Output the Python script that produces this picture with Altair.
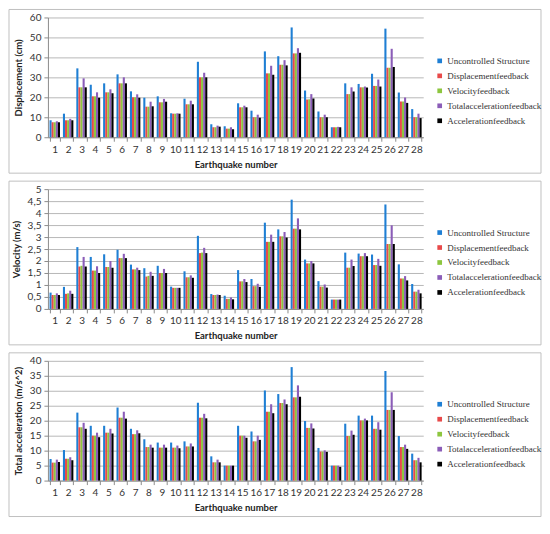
import pandas as pd
import altair as alt

quakes = list(range(1, 29))
series = ["Uncontrolled Structure", "Displacementfeedback", "Velocityfeedback",
          "Totalaccelerationfeedback", "Accelerationfeedback"]
colors = ["#1f7fd4", "#e84a4a", "#8dc63f", "#8b5db8", "#000000"]

# displacement (cm)
disp_unc = [8.5, 11.8, 34.5, 26.3, 27, 31.5, 23, 19.8, 20.5, 12, 19.3, 37.8, 6.5, 5.5,
            17, 13.3, 43, 40.6, 55, 23.4, 12.9, 5, 27, 26.7, 31.8, 54.4, 22.4, 14.1]
disp_dis = [7.5, 8.5, 25, 20.5, 22.5, 27, 20, 15.3, 17.5, 11.8, 16.5, 30, 5, 4.3,
            15, 10, 32, 36.3, 42, 18.9, 10, 5, 21.6, 25, 25.7, 34.8, 17.9, 10]
disp_vel = [7.5, 8.5, 25, 20.5, 22.5, 27, 20, 15.3, 17.5, 11.8, 16.5, 30, 5, 4.3,
            15, 10, 32, 36.3, 42, 19, 10, 5, 21.6, 25, 25.7, 34.8, 17.9, 10]
disp_tot = [8, 9.2, 29.5, 22.5, 24, 30, 21.5, 17.8, 19.2, 12, 18.3, 32.3, 5.8, 5,
            15.8, 11.3, 35.8, 38.6, 44.6, 21.6, 11.3, 5.2, 25, 25.4, 28.9, 44.3, 19.9, 11.8]
disp_acc = [7.5, 8.5, 25, 19.8, 22, 27, 19.8, 15.5, 17.8, 11.8, 16.5, 30, 5.3, 4,
            15, 9.8, 31.3, 36, 42.3, 19.4, 10, 5, 22.9, 24.9, 25.4, 35.2, 17.2, 9.6]

# velocity (m/s)
vel_unc = [0.68, 0.92, 2.58, 2.17, 2.28, 2.47, 1.85, 1.7, 1.8, 0.93, 1.57, 3.05, 0.62, 0.55,
           1.62, 1.25, 3.6, 3.32, 4.56, 2.06, 1.16, 0.39, 2.35, 2.31, 2.27, 4.36, 1.86, 1.04]
vel_dis = [0.58, 0.63, 1.77, 1.6, 1.75, 2.12, 1.65, 1.35, 1.5, 0.88, 1.32, 2.33, 0.58, 0.42,
           1.15, 0.95, 2.8, 3.03, 3.35, 1.9, 0.93, 0.39, 1.72, 2.2, 1.83, 2.71, 1.27, 0.72]
vel_vel = [0.58, 0.65, 1.8, 1.6, 1.75, 2.12, 1.65, 1.38, 1.5, 0.88, 1.32, 2.35, 0.58, 0.42,
           1.15, 0.95, 2.8, 3.03, 3.35, 1.9, 0.93, 0.39, 1.72, 2.2, 1.83, 2.71, 1.27, 0.72]
vel_tot = [0.65, 0.76, 2.17, 1.78, 2.0, 2.3, 1.72, 1.55, 1.67, 0.88, 1.4, 2.55, 0.6, 0.48,
           1.25, 1.05, 3.1, 3.21, 3.78, 2.0, 1.02, 0.39, 2.06, 2.33, 2.09, 3.49, 1.37, 0.8]
vel_acc = [0.58, 0.63, 1.77, 1.5, 1.72, 2.12, 1.62, 1.38, 1.5, 0.88, 1.3, 2.33, 0.58, 0.4,
           1.12, 0.92, 2.8, 2.98, 3.32, 1.9, 0.89, 0.39, 1.79, 2.2, 1.8, 2.71, 1.19, 0.65]

# total acceleration (m/s^2)
acc_unc = [7.2, 10.2, 22.7, 18.3, 18.3, 24.4, 17.3, 13.8, 12.7, 12.7, 13.1, 26, 8.1, 5,
           18.3, 16.4, 30.1, 28.9, 37.9, 19.9, 10.9, 5, 19, 21.7, 21.7, 36.6, 14.9, 9]
acc_dis = [6, 7.3, 17.8, 15, 16, 21, 15.5, 11.2, 11, 11, 11.4, 21, 6.1, 5,
           15, 13.1, 23, 25.9, 27.8, 17.6, 9.7, 5, 14.9, 20.1, 17.3, 23.6, 11.2, 6.8]
acc_vel = [6, 7.3, 17.8, 15, 16, 21, 15.5, 11.2, 11, 11, 11.4, 21, 6.1, 5,
           15, 13.1, 23, 25.9, 27.8, 17.6, 9.7, 5, 14.9, 20.1, 17.3, 23.6, 11.2, 6.8]
acc_tot = [7, 7.8, 19.3, 16, 17.3, 23, 16.8, 12, 12, 11.7, 12.4, 22.3, 7, 5,
           15, 15, 25.5, 27.1, 31.8, 19.1, 10.1, 5, 16.7, 20.7, 19.5, 29.5, 12, 7.6]
acc_acc = [6.2, 6.8, 17.3, 14.5, 15.7, 20.7, 15.8, 11, 11, 10.8, 11.4, 20.8, 6.1, 5,
           14.3, 13.6, 22.5, 25.5, 28, 17.4, 9.6, 4.6, 15.3, 20.1, 17, 23.6, 10.6, 6.1]

FONT = "Lato"
LEGEND_FONT = "Liberation Sans Narrow"
W, H = 376, 120


def panel(columns, ytitle, ymax, step, comma=False):
    rows = []
    for name, vals in zip(series, columns):
        for q, v in zip(quakes, vals):
            rows.append({"quake": q, "series": name, "value": v})
    df = pd.DataFrame(rows)

    ticks = [round(i * step, 2) for i in range(int(round(ymax / step)) + 1)]
    label_expr = "replace(toString(datum.value), '.', ',')" if comma else "toString(datum.value)"

    bars = alt.Chart(df).mark_bar().encode(
        x=alt.X("quake:O", title="Earthquake number",
                scale=alt.Scale(paddingInner=0.22, paddingOuter=0.12),
                axis=alt.Axis(labelAngle=0, tickBand="extent", grid=False,
                              titleAnchor="middle")),
        xOffset=alt.XOffset("series:N", sort=series),
        y=alt.Y("value:Q", title=ytitle,
                scale=alt.Scale(domain=[0, ymax], nice=False),
                axis=alt.Axis(values=ticks, labelExpr=label_expr)),
        color=alt.Color("series:N", sort=series,
                        scale=alt.Scale(domain=series, range=colors),
                        legend=alt.Legend(title=None, orient="none", legendX=388, legendY=39,
                                          symbolType="square", symbolSize=22,
                                          labelFontSize=9, rowPadding=5, labelOffset=3,
                                          symbolStrokeWidth=0, padding=0)),
    )

    frame = alt.Chart(pd.DataFrame({"a": [0]})).mark_rect(
        fillOpacity=0, stroke="#c0c0c0", strokeWidth=1
    ).encode(x=alt.value(-39), x2=alt.value(494), y=alt.value(-8), y2=alt.value(156))

    return alt.layer(frame, bars).properties(width=W, height=H)


p1 = panel([disp_unc, disp_dis, disp_vel, disp_tot, disp_acc], "Displacement (cm)", 60, 10)
p2 = panel([vel_unc, vel_dis, vel_vel, vel_tot, vel_acc], "Velocity (m/s)", 5, 0.5, comma=True)
p3 = panel([acc_unc, acc_dis, acc_vel, acc_tot, acc_acc], "Total acceleration (m/s^2)", 40, 5)

chart = alt.vconcat(p1, p2, p3, spacing=6).resolve_scale(
    x="independent", y="independent", color="independent"
).resolve_legend(color="independent").properties(
    padding={"left": 0, "top": 0, "right": 0, "bottom": 0}
).configure_view(
    strokeWidth=0
).configure_axis(
    labelFont=FONT, titleFont=FONT, labelFontSize=10, titleFontSize=9.5,
    titleFontWeight="bold", labelColor="#333333", titleColor="#222222",
    domainColor="#8c8c8c", tickColor="#8c8c8c", gridColor="#b8b8b8",
    tickSize=4, labelPadding=3
).configure_axisY(
    titlePadding=6
).configure_axisX(
    titlePadding=5
).configure_legend(
    labelFont=LEGEND_FONT, labelColor="#333333"
)

chart.save("out.html", embed_options={"renderer": "svg", "actions": False})
